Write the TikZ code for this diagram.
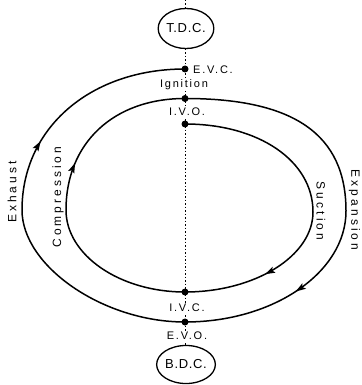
\documentclass[tikz,border=0pt]{standalone}
\usepackage{fontspec}
\setmainfont{Liberation Sans}
\newfontfamily\labfont[LetterSpace=16]{Liberation Sans}
\newfontfamily\rotfont[LetterSpace=25]{Liberation Sans}
\newfontfamily\dcfont[LetterSpace=5]{Liberation Sans}
\usetikzlibrary{arrows.meta,decorations.markings,shapes.geometric}
\begin{document}
\begin{tikzpicture}[x=1pt,y=-1pt,
  dot/.style={circle,fill=black,inner sep=0pt,minimum size=7pt},
  lab/.style={font=\labfont\fontsize{11}{13}\selectfont,fill=white,inner sep=1pt},
  rotl/.style={font=\rotfont\fontsize{12}{14}\selectfont,inner sep=0pt},
  dc/.style={draw,ellipse,line width=1.3pt,fill=white,minimum width=50pt,inner sep=0pt,font=\dcfont\fontsize{13}{15}\selectfont},
  curve/.style={line width=1.5pt},
  guide/.style={line width=0.6pt,dash pattern=on 1.5pt off 2pt},
  arr/.style={decoration={markings,mark=at position #1 with {\arrow{Stealth[length=10pt,width=6.5pt,inset=2pt]}}},postaction=decorate}]
\useasboundingbox (0,0) rectangle (361,385);
\coordinate (top) at (185,0);
\coordinate (bot) at (185,385);
\draw[guide] (top) -- (bot);
% Suction
\draw[curve,arr=0.755] (185,124) .. controls (259,124) and (313,161) .. (313,212)
   .. controls (313,256) and (255,292) .. (185,292);
% Compression
\draw[curve,arr=0.605] (185,292) .. controls (119.5,292) and (66,255) .. (66,210)
   .. controls (66,143) and (113.6,98.5) .. (185,98.5);
% Expansion
\draw[curve,arr=0.735] (185,98.5) .. controls (294,98.5) and (346,134.5) .. (346,211)
   .. controls (346,272) and (274,322) .. (185,322);
% Exhaust
\draw[curve,arr=0.63] (185,322) .. controls (103,322) and (22,266) .. (22,210)
   .. controls (22,128) and (90.5,69) .. (185,69);
% dots
\node[dot] (evc) at (185,69) {};
\node[dot] (ign) at (185,98.5) {};
\node[dot] (ivo) at (185,124) {};
\node[dot] (ivc) at (185,292) {};
\node[dot] (evo) at (185,322) {};
% labels
\node[lab,anchor=west] (evcl) at (192,70) {E.V.C.};
\node[lab] (ignl) at (184,84.5) {Ignition};
\node[lab] (ivol) at (187,112) {I.V.O.};
\node[lab] (ivcl) at (187,308) {I.V.C.};
\node[lab] (evol) at (187,336) {E.V.O.};
\node[rotl,rotate=90] (exh) at (12,192) {Exhaust};
\node[rotl,rotate=90] (cmp) at (58,197) {Compression};
\node[rotl,rotate=-90] (suc) at (321,211) {Suction};
\node[rotl,rotate=-90] (exp) at (354.5,210) {Expansion};
\node[dc,minimum height=40pt] (tdc) at (186,28.5) {T.D.C.};
\node[dc,minimum height=38pt] (bdc) at (186,364.5) {B.D.C.};
\end{tikzpicture}
\end{document}
